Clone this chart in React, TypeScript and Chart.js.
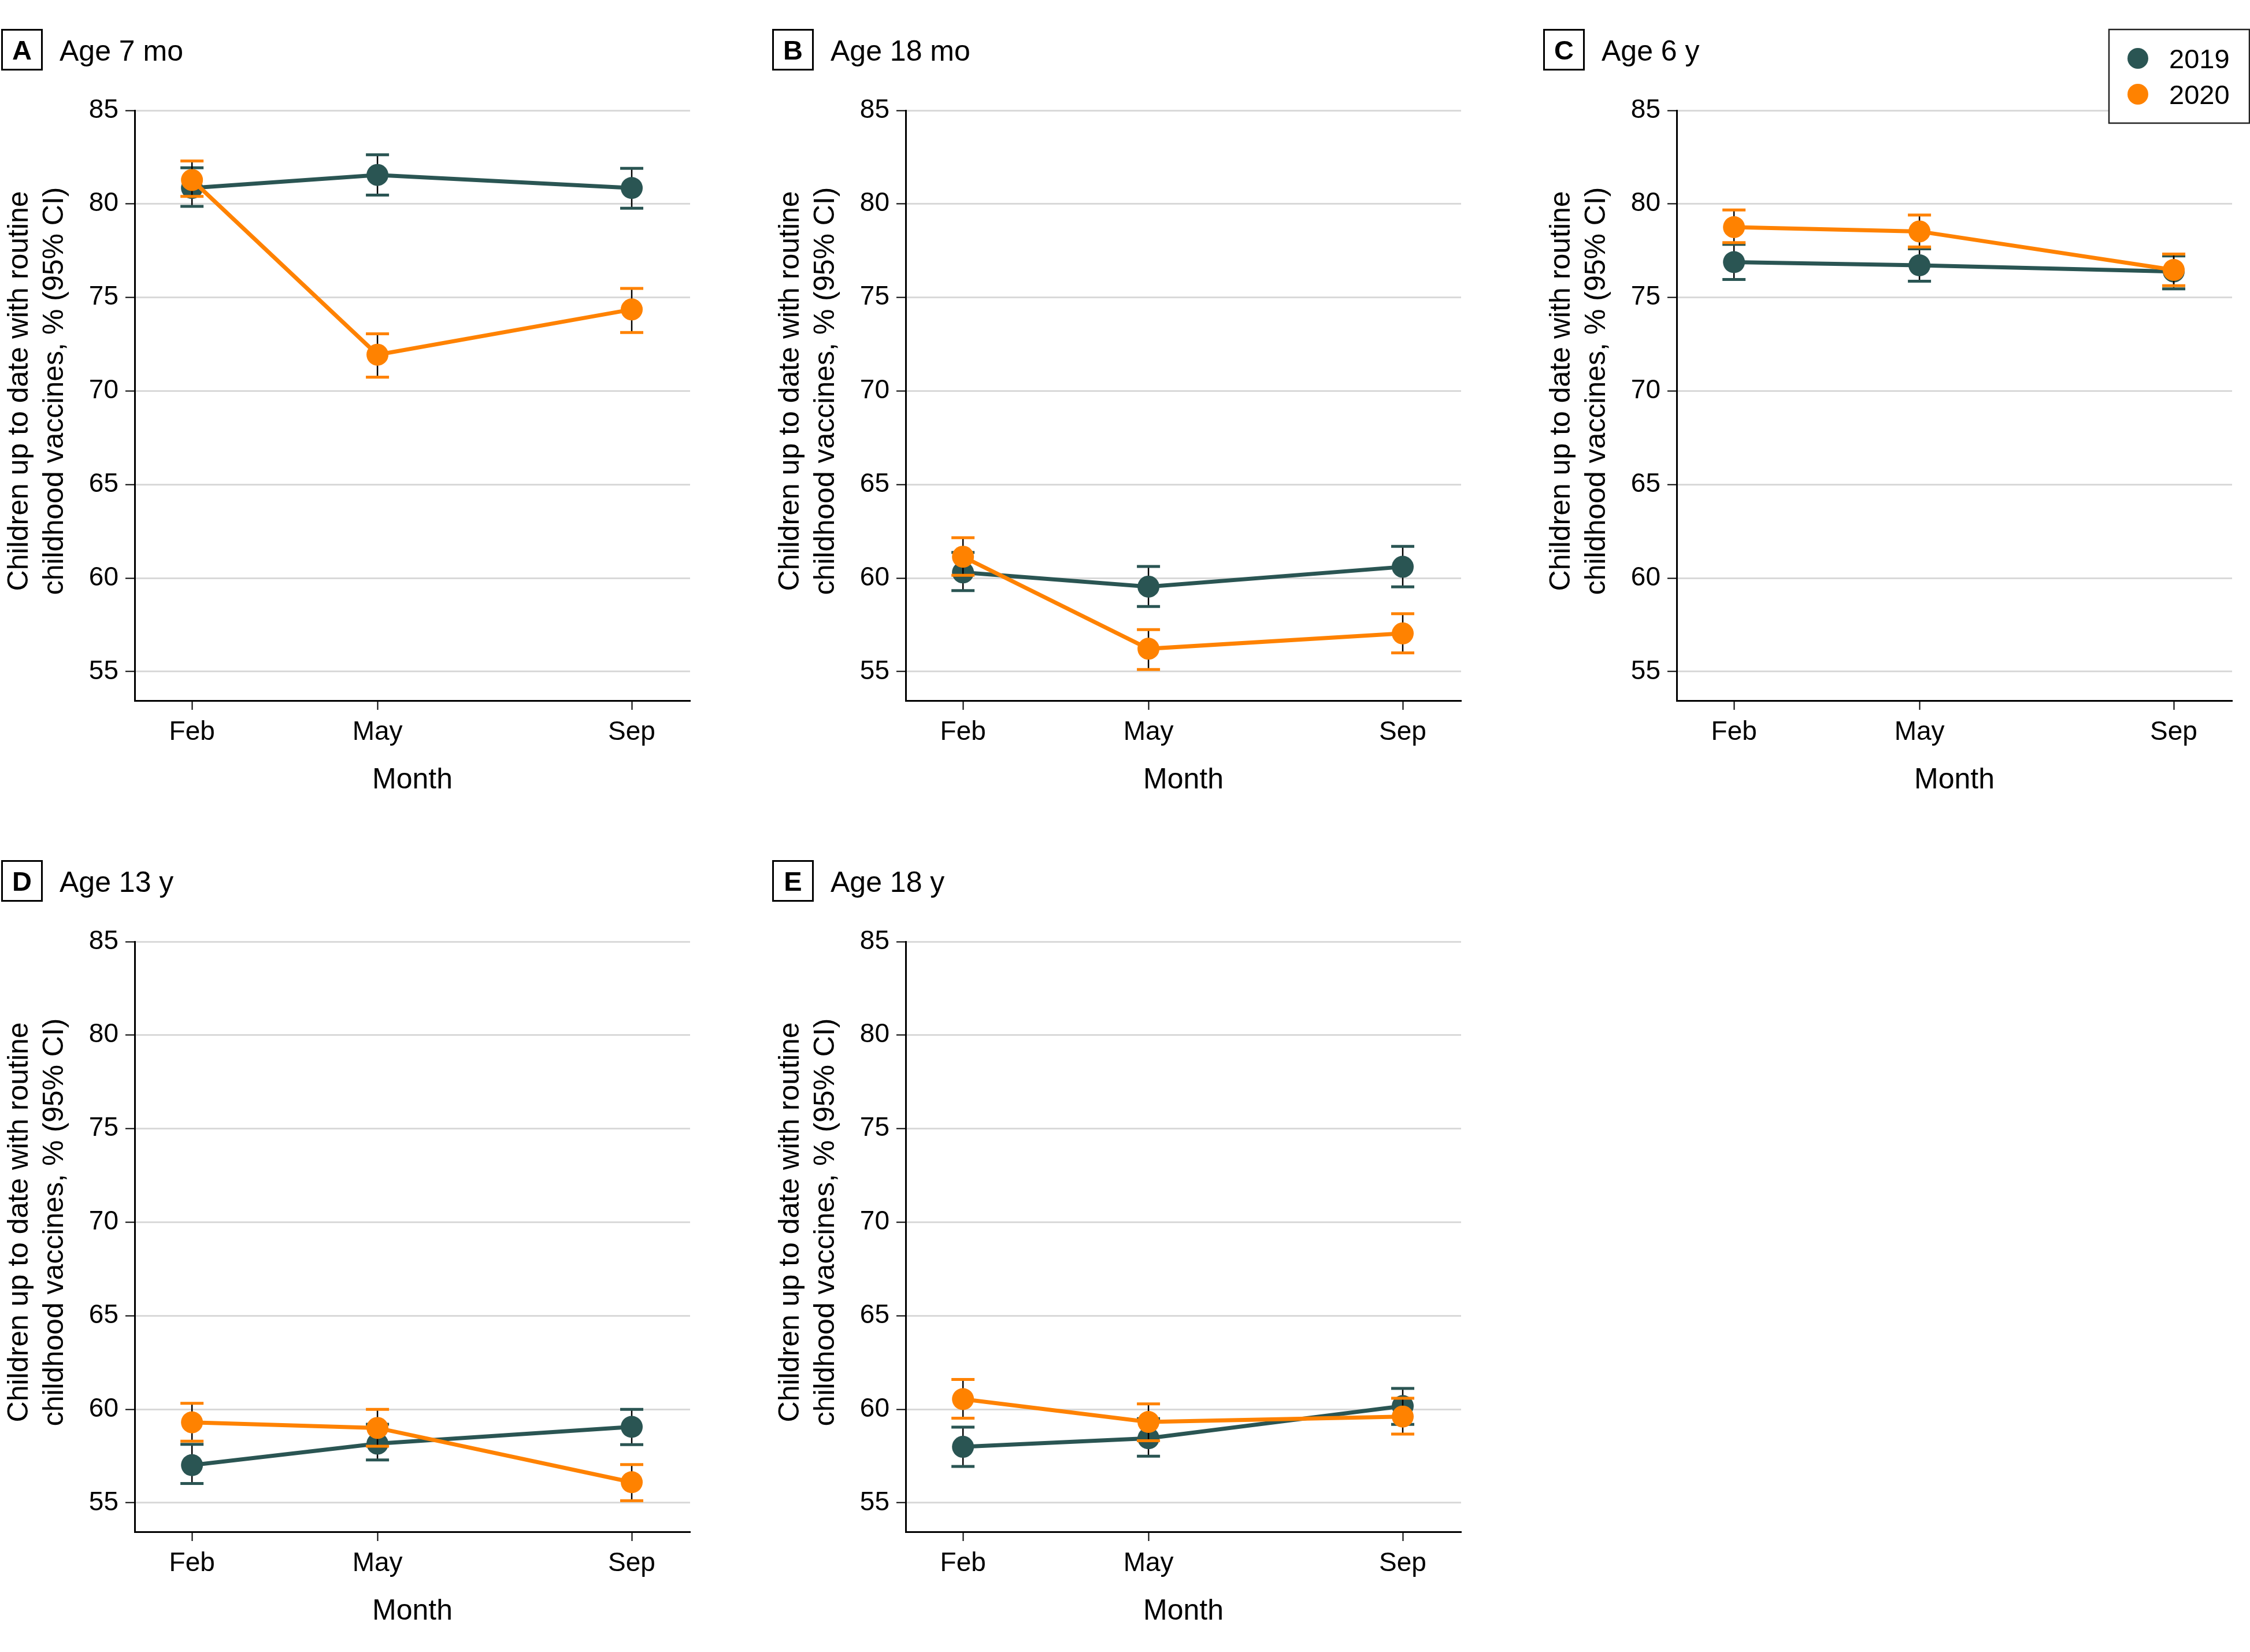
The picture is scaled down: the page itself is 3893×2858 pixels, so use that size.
import React, { useEffect, useRef } from "react";
import { Chart, registerables } from "chart.js";

Chart.register(...registerables);

// ---------- data ----------
const monthLabels = ["Feb", "May", "Sep"];
const monthDays = [46, 135, 257];
const yTicks = [55, 60, 65, 70, 75, 80, 85];
const seriesLabels = ["2019", "2020"];
const seriesColors = ["#2a5553", "#ff8200"];
const panelLetters = ["A", "B", "C", "D", "E"];
const panelTitles = ["Age 7 mo", "Age 18 mo", "Age 6 y", "Age 13 y", "Age 18 y"];
const yTitleLines = ["Children up to date with routine", "childhood vaccines, % (95% CI)"];
const xTitle = "Month";

const a2019 = [80.85, 81.55, 80.85];
const a2019Lo = [79.87, 80.47, 79.77];
const a2019Hi = [81.93, 82.63, 81.9];
const a2020 = [81.28, 71.94, 74.36];
const a2020Lo = [80.4, 70.74, 73.13];
const a2020Hi = [82.3, 73.06, 75.48];

const b2019 = [60.3, 59.54, 60.6];
const b2019Lo = [59.33, 58.48, 59.53];
const b2019Hi = [61.37, 60.62, 61.69];
const b2020 = [61.14, 56.22, 57.04];
const b2020Lo = [60.15, 55.11, 56.0];
const b2020Hi = [62.16, 57.24, 58.09];

const c2019 = [76.89, 76.72, 76.39];
const c2019Lo = [75.96, 75.87, 75.46];
const c2019Hi = [77.84, 77.6, 77.22];
const c2020 = [78.76, 78.53, 76.47];
const c2020Lo = [77.93, 77.7, 75.63];
const c2020Hi = [79.68, 79.41, 77.32];

const d2019 = [57.01, 58.16, 59.06];
const d2019Lo = [56.03, 57.29, 58.11];
const d2019Hi = [58.12, 59.2, 59.99];
const d2020 = [59.3, 59.0, 56.1];
const d2020Lo = [58.29, 58.02, 55.11];
const d2020Hi = [60.32, 59.99, 57.04];

const e2019 = [57.99, 58.45, 60.17];
const e2019Lo = [56.94, 57.49, 59.19];
const e2019Hi = [59.04, 59.5, 61.11];
const e2020 = [60.54, 59.32, 59.61];
const e2020Lo = [59.52, 58.32, 58.67];
const e2020Hi = [61.59, 60.29, 60.59];

const panelSeries = [
  [[a2019, a2019Lo, a2019Hi], [a2020, a2020Lo, a2020Hi]],
  [[b2019, b2019Lo, b2019Hi], [b2020, b2020Lo, b2020Hi]],
  [[c2019, c2019Lo, c2019Hi], [c2020, c2020Lo, c2020Hi]],
  [[d2019, d2019Lo, d2019Hi], [d2020, d2020Lo, d2020Hi]],
  [[e2019, e2019Lo, e2019Hi], [e2020, e2020Lo, e2020Hi]],
];

// ---------- layout ----------
const PAGE_W = 3893;
const PAGE_H = 2858;
const COL_W = 1334;
const ROW_H = 1438;
const PLOT_LEFT = 233;
const PLOT_RIGHT = 1194;
const PLOT_TOP = 191;
const PLOT_BOTTOM = 1212;
const FONT = "'Liberation Sans', Arial, 'DejaVu Sans', sans-serif";

const panelPlugin = {
  id: "panelDecor",
  beforeDatasetDraw(chart: any, args: any) {
    const ds = chart.data.datasets[args.index];
    const meta = args.meta;
    const y = chart.scales.y;
    const ctx = chart.ctx;
    ctx.save();
    meta.data.forEach((pt: any, i: number) => {
      const x = pt.x;
      const yLo = y.getPixelForValue(ds.lo[i]);
      const yHi = y.getPixelForValue(ds.hi[i]);
      ctx.strokeStyle = "#000";
      ctx.lineWidth = 2.5;
      ctx.beginPath();
      ctx.moveTo(x, yLo);
      ctx.lineTo(x, yHi);
      ctx.stroke();
      ctx.strokeStyle = ds.borderColor;
      ctx.lineWidth = 5;
      ctx.beginPath();
      ctx.moveTo(x - 20, yLo);
      ctx.lineTo(x + 20, yLo);
      ctx.moveTo(x - 20, yHi);
      ctx.lineTo(x + 20, yHi);
      ctx.stroke();
    });
    ctx.restore();
  },
  afterDraw(chart: any) {
    const o = chart.options.plugins.panelDecor;
    const ctx = chart.ctx;
    const area = chart.chartArea;
    const y = chart.scales.y;
    ctx.save();
    ctx.fillStyle = "#000";
    ctx.strokeStyle = "#000";
    // panel letter box
    ctx.lineWidth = 3;
    ctx.strokeRect(3.5, 51.5, 69, 69);
    ctx.font = `bold 47px ${FONT}`;
    ctx.textAlign = "center";
    ctx.textBaseline = "alphabetic";
    ctx.fillText(o.letter, 38, 103);
    // panel title
    ctx.font = `50px ${FONT}`;
    ctx.textAlign = "left";
    ctx.fillText(o.title, 103, 105);
    // y title
    const cy = (y.getPixelForValue(yTicks[0]) + y.getPixelForValue(yTicks[yTicks.length - 1])) / 2;
    ctx.font = `50px ${FONT}`;
    ctx.textAlign = "center";
    const baseXs = [48, 109];
    yTitleLines.forEach((line, i) => {
      ctx.save();
      ctx.translate(baseXs[i], cy);
      ctx.rotate(-Math.PI / 2);
      ctx.fillText(line, 0, 0);
      ctx.restore();
    });
    // x title
    ctx.font = `50px ${FONT}`;
    ctx.textAlign = "center";
    ctx.fillText(xTitle, (area.left + area.right) / 2, 1364);
    // legend
    if (o.legend) {
      const lx = o.legendX;
      ctx.fillStyle = "#fff";
      ctx.fillRect(lx, 51, 243, 162);
      ctx.strokeStyle = "#222";
      ctx.lineWidth = 2.5;
      ctx.strokeRect(lx, 51, 243, 162);
      chart.data.datasets
        .slice()
        .sort((p: any, q: any) => (p.label < q.label ? -1 : 1))
        .forEach((ds: any, i: number) => {
          const cyy = 101 + i * 62;
          ctx.fillStyle = ds.borderColor;
          ctx.beginPath();
          ctx.arc(lx + 50, cyy, 18, 0, Math.PI * 2);
          ctx.fill();
          ctx.fillStyle = "#000";
          ctx.font = `47px ${FONT}`;
          ctx.textAlign = "left";
          ctx.fillText(ds.label, lx + 104, cyy + 17);
        });
    }
    ctx.restore();
  },
};

function Panel({ index }: { index: number }) {
  const ref = useRef<HTMLCanvasElement | null>(null);
  const col = index % 3;
  const row = Math.floor(index / 3);
  const left = col * COL_W;
  const top = row * ROW_H;
  const width = Math.min(COL_W, PAGE_W - left);
  const height = Math.min(ROW_H, PAGE_H - top);

  useEffect(() => {
    if (!ref.current) return;
    const series = panelSeries[index];
    const datasets = series.map((s, si) => ({
      label: seriesLabels[si],
      data: monthDays.map((d, i) => ({ x: d, y: s[0][i] })),
      lo: s[1],
      hi: s[2],
      borderColor: seriesColors[si],
      backgroundColor: seriesColors[si],
      pointBackgroundColor: seriesColors[si],
      pointBorderWidth: 0,
      pointRadius: 19,
      borderWidth: 7,
      tension: 0,
      clip: false,
      order: si === 0 ? 1 : 0,
    }));
    const tickFont = { family: FONT, size: 46 };
    const chart = new Chart(ref.current, {
      type: "line",
      data: { datasets } as any,
      options: {
        animation: false,
        responsive: false,
        maintainAspectRatio: false,
        devicePixelRatio: 1,
        layout: { padding: { left: 0, top: PLOT_TOP, right: width - PLOT_RIGHT, bottom: 0 } },
        plugins: {
          legend: { display: false },
          tooltip: { enabled: false },
          panelDecor: {
            letter: panelLetters[index],
            title: panelTitles[index],
            legend: index === 2,
            legendX: 3649 - left,
          },
        } as any,
        scales: {
          x: {
            type: "linear",
            min: 18.5,
            max: 285,
            afterBuildTicks: (s: any) => {
              s.ticks = monthDays.map((v) => ({ value: v }));
            },
            afterFit: (s: any) => {
              s.height = height - PLOT_BOTTOM;
            },
            ticks: {
              font: tickFont,
              color: "#000",
              padding: 12,
              maxRotation: 0,
              autoSkip: false,
              callback: (v: any) => monthLabels[monthDays.indexOf(Number(v))],
            },
            grid: { drawOnChartArea: false, drawTicks: true, tickLength: 16, tickColor: "#000", tickWidth: 2 },
            border: { color: "#000", width: 3 },
          },
          y: {
            min: 53.45,
            max: 85,
            afterBuildTicks: (s: any) => {
              s.ticks = yTicks.map((v) => ({ value: v }));
            },
            afterFit: (s: any) => {
              s.width = PLOT_LEFT;
            },
            ticks: { font: tickFont, color: "#000", padding: 12 },
            grid: { color: "#d9d9d9", lineWidth: 3, tickColor: "#000", tickLength: 16, tickWidth: 2 },
            border: { color: "#000", width: 3 },
          },
        },
      } as any,
      plugins: [panelPlugin],
    });
    return () => chart.destroy();
  }, [index, width, height]);

  return (
    <canvas
      ref={ref}
      width={width}
      height={height}
      style={{ position: "absolute", left, top, width, height, display: "block" }}
    />
  );
}

export default function App() {
  return (
    <div
      style={{
        position: "absolute",
        left: 0,
        top: 0,
        width: PAGE_W,
        height: PAGE_H,
        overflow: "hidden",
        background: "#fff",
      }}
    >
      {panelLetters.map((_, i) => (
        <Panel key={i} index={i} />
      ))}
    </div>
  );
}
